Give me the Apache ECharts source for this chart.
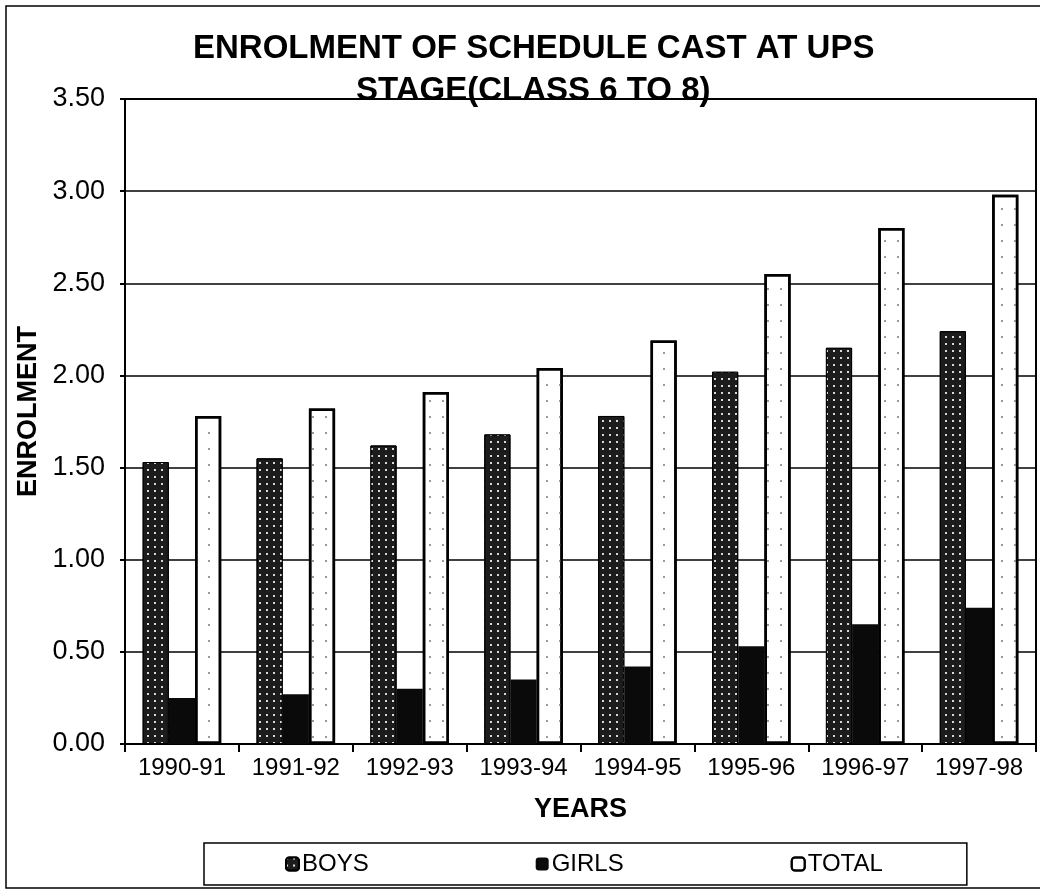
<!DOCTYPE html>
<html>
<head>
<meta charset="utf-8">
<title>Enrolment of Schedule Cast at UPS Stage</title>
<script src="https://cdn.jsdelivr.net/npm/echarts@6/dist/echarts.min.js"></script>
<style>
  html, body { margin: 0; padding: 0; background: #fff; }
  #chart { width: 1040px; height: 893px; }
</style>
</head>
<body>
<div id="chart"></div>
<script>
  // values (in lakhs)
  const years = ['1990-91', '1991-92', '1992-93', '1993-94', '1994-95', '1995-96', '1996-97', '1997-98'];
  const boys  = [1.53, 1.55, 1.62, 1.68, 1.78, 2.02, 2.15, 2.24];
  const girls = [0.25, 0.27, 0.30, 0.35, 0.42, 0.53, 0.65, 0.74];
  const total = [1.78, 1.82, 1.91, 2.04, 2.19, 2.55, 2.80, 2.98];
  const yTicks = { min: 0, max: 3.5, interval: 0.5 };

  const font = "'Liberation Sans', Arial, sans-serif";
  const titleStyle = { fontFamily: font, fontWeight: 'bold', fontSize: 33, color: '#000' };

  let chart = echarts.init(document.getElementById('chart'));

  let option = {
    backgroundColor: '#fff',
    animation: false,
    // two title lines, centred around x=534 like the scan
    title: [
      { text: 'ENROLMENT OF SCHEDULE CAST AT UPS', left: 193, top: 32, padding: 0, textStyle: titleStyle },
      { text: 'STAGE(CLASS 6 TO 8)', left: 356, top: 74, padding: 0, textStyle: titleStyle }
    ],
    legend: {
      data: ['BOYS', 'GIRLS', 'TOTAL'],
      left: 204,
      top: 843,
      orient: 'horizontal',
      padding: [9, 84, 9, 81],
      itemGap: 167,
      itemWidth: 13,
      itemHeight: 13,
      borderColor: '#000',
      borderWidth: 1.5,
      borderRadius: 0,
      textStyle: { fontFamily: font, fontSize: 24, color: '#000', padding: [0, 0, 0, -2] }
    },
    grid: {
      left: 125,
      right: 4,
      top: 99,
      bottom: 149,
      show: true,
      borderColor: '#000',
      borderWidth: 2,
      containLabel: false
    },
    xAxis: {
      type: 'category',
      data: years,
      name: 'YEARS',
      nameLocation: 'middle',
      nameGap: 52,
      nameTextStyle: { fontFamily: font, fontWeight: 'bold', fontSize: 27, color: '#000' },
      axisLine: { lineStyle: { color: '#000', width: 2 } },
      axisTick: { show: true, length: 8, lineStyle: { color: '#000', width: 2 } },
      axisLabel: { fontFamily: font, fontSize: 24, color: '#000', margin: 12, interval: 0 }
    },
    yAxis: {
      type: 'value',
      min: yTicks.min,
      max: yTicks.max,
      interval: yTicks.interval,
      name: 'ENROLMENT',
      nameLocation: 'middle',
      nameGap: 56,
      nameTextStyle: { fontFamily: font, fontWeight: 'bold', fontSize: 27, color: '#000', padding: [0, 0, 0, 20] },
      axisLine: { show: true, lineStyle: { color: '#000', width: 2 } },
      axisTick: { show: true, length: 5, lineStyle: { color: '#000', width: 2 } },
      axisLabel: {
        fontFamily: font,
        fontSize: 27,
        color: '#000',
        margin: 20,
        formatter: function (v) { return v.toFixed(2); }
      },
      splitLine: { show: true, lineStyle: { color: '#000', width: 1.5 } }
    },
    graphic: [{
      type: 'rect',
      silent: true,
      shape: { x: 6, y: 6, width: 1040, height: 882 },
      style: { fill: 'none', stroke: '#000', lineWidth: 1.5 }
    }],
    series: [
      {
        name: 'BOYS',
        type: 'bar',
        data: boys,
        barGap: '0%',
        barCategoryGap: '31%',
        itemStyle: {
          color: '#1c1c1c',
          borderColor: '#000',
          borderWidth: 1,
          decal: {
            symbol: 'rect',
            symbolSize: 1,
            color: '#d8d8d8',
            dashArrayX: [2, 5],
            dashArrayY: [2, 5]
          }
        }
      },
      {
        name: 'GIRLS',
        type: 'bar',
        data: girls,
        itemStyle: { color: '#0a0a0a' }
      },
      {
        name: 'TOTAL',
        type: 'bar',
        data: total,
        itemStyle: {
          color: '#fff',
          borderColor: '#000',
          borderWidth: 2.5,
          decal: {
            symbol: 'rect',
            symbolSize: 1,
            color: '#999',
            dashArrayX: [1.5, 11],
            dashArrayY: [1.5, 14]
          }
        }
      }
    ]
  };

  chart.setOption(option);
</script>
</body>
</html>
